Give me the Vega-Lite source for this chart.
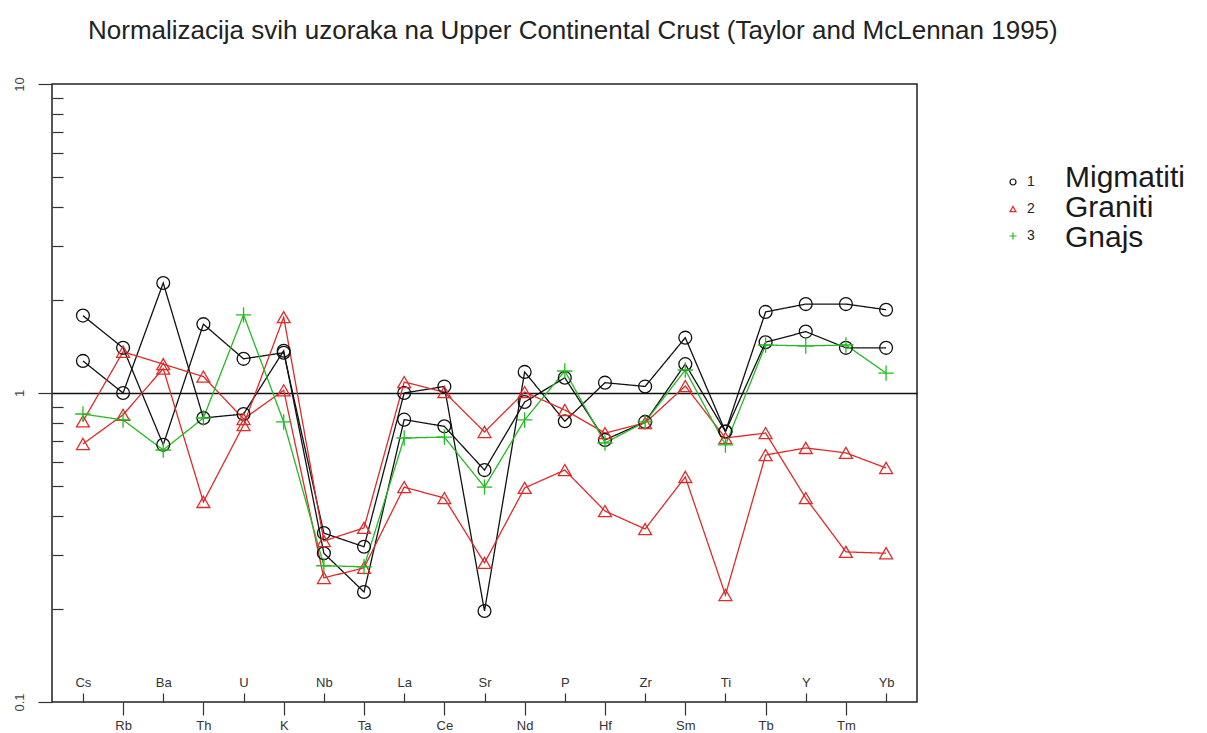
{
  "$schema": "https://vega.github.io/schema/vega-lite/v6.json",
  "width": 865,
  "height": 618,
  "autosize": "none",
  "padding": {"left": 52, "top": 84, "right": 290, "bottom": 31},
  "background": "white",
  "config": {"view": {"stroke": "#222", "strokeWidth": 1.5}, "font": "Liberation Sans"},
  "title": {
    "text": "Normalizacija svih uzoraka na Upper Continental Crust (Taylor  and  McLennan 1995)",
    "anchor": "start", "fontSize": 26, "font": "Liberation Sans",
    "fontWeight": "normal", "color": "#222", "offset": 33, "dx": 75
  },
  "datasets": {
    "ser": [
      {"s": "m1", "grp": "1", "rock": "Migmatiti"},
      {"s": "m2", "grp": "1", "rock": "Migmatiti"},
      {"s": "r1", "grp": "2", "rock": "Graniti"},
      {"s": "r2", "grp": "2", "rock": "Graniti"},
      {"s": "n1", "grp": "3", "rock": "Gnajs"}
    ]
  },
  "data": {"values": [
    {"el":"Cs","s":"m1","v":1.78},{"el":"Rb","s":"m1","v":1.40},{"el":"Ba","s":"m1","v":0.68},{"el":"Th","s":"m1","v":1.67},{"el":"U","s":"m1","v":1.29},{"el":"K","s":"m1","v":1.35},{"el":"Nb","s":"m1","v":0.352},{"el":"Ta","s":"m1","v":0.318},{"el":"La","s":"m1","v":1.0},{"el":"Ce","s":"m1","v":1.05},{"el":"Sr","s":"m1","v":0.197},{"el":"Nd","s":"m1","v":1.17},{"el":"P","s":"m1","v":0.81},{"el":"Hf","s":"m1","v":1.08},{"el":"Zr","s":"m1","v":1.05},{"el":"Sm","s":"m1","v":1.51},{"el":"Ti","s":"m1","v":0.75},{"el":"Tb","s":"m1","v":1.83},{"el":"Y","s":"m1","v":1.94},{"el":"Tm","s":"m1","v":1.94},{"el":"Yb","s":"m1","v":1.86},
    {"el":"Cs","s":"m2","v":1.27},{"el":"Rb","s":"m2","v":1.0},{"el":"Ba","s":"m2","v":2.27},{"el":"Th","s":"m2","v":0.83},{"el":"U","s":"m2","v":0.855},{"el":"K","s":"m2","v":1.37},{"el":"Nb","s":"m2","v":0.303},{"el":"Ta","s":"m2","v":0.227},{"el":"La","s":"m2","v":0.82},{"el":"Ce","s":"m2","v":0.78},{"el":"Sr","s":"m2","v":0.563},{"el":"Nd","s":"m2","v":0.935},{"el":"P","s":"m2","v":1.12},{"el":"Hf","s":"m2","v":0.705},{"el":"Zr","s":"m2","v":0.806},{"el":"Sm","s":"m2","v":1.24},{"el":"Ti","s":"m2","v":0.75},{"el":"Tb","s":"m2","v":1.46},{"el":"Y","s":"m2","v":1.58},{"el":"Tm","s":"m2","v":1.40},{"el":"Yb","s":"m2","v":1.40},
    {"el":"Cs","s":"r1","v":0.81},{"el":"Rb","s":"r1","v":1.36},{"el":"Ba","s":"r1","v":1.24},{"el":"Th","s":"r1","v":1.13},{"el":"U","s":"r1","v":0.824},{"el":"K","s":"r1","v":1.02},{"el":"Nb","s":"r1","v":0.252},{"el":"Ta","s":"r1","v":0.272},{"el":"La","s":"r1","v":0.496},{"el":"Ce","s":"r1","v":0.457},{"el":"Sr","s":"r1","v":0.282},{"el":"Nd","s":"r1","v":0.493},{"el":"P","s":"r1","v":0.563},{"el":"Hf","s":"r1","v":0.415},{"el":"Zr","s":"r1","v":0.363},{"el":"Sm","s":"r1","v":0.535},{"el":"Ti","s":"r1","v":0.222},{"el":"Tb","s":"r1","v":0.63},{"el":"Y","s":"r1","v":0.664},{"el":"Tm","s":"r1","v":0.64},{"el":"Yb","s":"r1","v":0.572},
    {"el":"Cs","s":"r2","v":0.684},{"el":"Rb","s":"r2","v":0.85},{"el":"Ba","s":"r2","v":1.20},{"el":"Th","s":"r2","v":0.444},{"el":"U","s":"r2","v":0.788},{"el":"K","s":"r2","v":1.76},{"el":"Nb","s":"r2","v":0.332},{"el":"Ta","s":"r2","v":0.366},{"el":"La","s":"r2","v":1.085},{"el":"Ce","s":"r2","v":1.007},{"el":"Sr","s":"r2","v":0.748},{"el":"Nd","s":"r2","v":1.007},{"el":"P","s":"r2","v":0.881},{"el":"Hf","s":"r2","v":0.742},{"el":"Zr","s":"r2","v":0.80},{"el":"Sm","s":"r2","v":1.053},{"el":"Ti","s":"r2","v":0.715},{"el":"Tb","s":"r2","v":0.742},{"el":"Y","s":"r2","v":0.457},{"el":"Tm","s":"r2","v":0.306},{"el":"Yb","s":"r2","v":0.303},
    {"el":"Cs","s":"n1","v":0.855},{"el":"Rb","s":"n1","v":0.818},{"el":"Ba","s":"n1","v":0.654},{"el":"Th","s":"n1","v":0.83},{"el":"U","s":"n1","v":1.79},{"el":"K","s":"n1","v":0.806},{"el":"Nb","s":"n1","v":0.276},{"el":"Ta","s":"n1","v":0.274},{"el":"La","s":"n1","v":0.715},{"el":"Ce","s":"n1","v":0.72},{"el":"Sr","s":"n1","v":0.496},{"el":"Nd","s":"n1","v":0.818},{"el":"P","s":"n1","v":1.178},{"el":"Hf","s":"n1","v":0.689},{"el":"Zr","s":"n1","v":0.806},{"el":"Sm","s":"n1","v":1.187},{"el":"Ti","s":"n1","v":0.679},{"el":"Tb","s":"n1","v":1.43},{"el":"Y","s":"n1","v":1.42},{"el":"Tm","s":"n1","v":1.43},{"el":"Yb","s":"n1","v":1.16}
  ]},
  "transform": [{"lookup": "s", "from": {"data": {"name": "ser"}, "key": "s", "fields": ["grp", "rock"]}}],
  "encoding": {
    "x": {
      "field": "el", "type": "nominal",
      "sort": ["Cs","Rb","Ba","Th","U","K","Nb","Ta","La","Ce","Sr","Nd","P","Hf","Zr","Sm","Ti","Tb","Y","Tm","Yb"],
      "scale": {"type": "point", "padding": 0.77},
      "axis": {
        "title": null, "labelAngle": 0, "domain": false, "grid": false,
        "labelFontSize": 13, "labelColor": "#333", "labelFont": "Liberation Sans",
        "tickColor": "#333", "tickWidth": 1.2, "labelOverlap": false,
        "tickSize": {"condition": {"test": "indexof(['Cs','Ba','U','Nb','La','Sr','P','Zr','Ti','Y','Yb'], datum.value) >= 0", "value": -9}, "value": 13},
        "labelPadding": {"condition": {"test": "indexof(['Cs','Ba','U','Nb','La','Sr','P','Zr','Ti','Y','Yb'], datum.value) >= 0", "value": -17}, "value": 4}
      }
    },
    "y": {
      "field": "v", "type": "quantitative",
      "scale": {"type": "log", "domain": [0.1, 10], "nice": false},
      "axis": {
        "title": null, "domain": false,
        "values": [0.1,0.2,0.3,0.4,0.5,0.6,0.7,0.8,0.9,1,2,3,4,5,6,7,8,9,10],
        "labelExpr": "datum.value == 0.1 ? '0.1' : datum.value == 1 ? '1' : datum.value == 10 ? '10' : ''",
        "labelFontSize": 13, "labelColor": "#444", "labelAngle": 270, "labelAlign": "center",
        "labelBaseline": "bottom", "labelFlush": false, "labelOverlap": false,
        "tickColor": "#333", "tickWidth": 1.2, "labelPadding": 12,
        "tickSize": {"condition": {"test": "datum.value == 0.1 || datum.value == 1 || datum.value == 10", "value": 14}, "value": -11},
        "grid": true, "gridColor": "#111", "gridWidth": 1.4,
        "gridOpacity": {"condition": {"test": "datum.value == 1", "value": 1}, "value": 0}
      }
    }
  },
  "layer": [
    {
      "mark": {"type": "line", "strokeWidth": 1.3},
      "encoding": {
        "color": {"field": "rock", "type": "nominal",
          "scale": {"domain": ["Migmatiti","Graniti","Gnajs"], "range": ["#111111","#e02a2a","#22bb22"]},
          "legend": {"orient": "none", "legendX": 954, "legendY": 91, "title": null, "labelFontSize": 14, "labelColor": "#222",
            "labelExpr": "datum.label == 'Migmatiti' ? '1' : datum.label == 'Graniti' ? '2' : '3'",
            "symbolSize": 36, "rowPadding": 13, "labelOffset": 7, "symbolStrokeWidth": 1.2}},
        "strokeDash": {"field": "grp", "type": "nominal",
          "scale": {"domain": ["1","2","3"], "range": [[1,0],[1,0],[1,0]]},
          "legend": {"orient": "none", "legendX": 983, "legendY": 79, "title": null, "labelFontSize": 30, "labelColor": "#1a1a1a",
            "labelExpr": "datum.label == '1' ? 'Migmatiti' : datum.label == '2' ? 'Graniti' : 'Gnajs'",
            "symbolOpacity": 0, "symbolStrokeWidth": 0, "symbolSize": 36, "rowPadding": -4, "labelOffset": 0}},
        "detail": {"field": "s"}
      }
    },
    {
      "mark": {"type": "point", "filled": false, "size": 165, "strokeWidth": 1.3, "opacity": 1},
      "encoding": {
        "color": {"field": "rock", "type": "nominal",
          "scale": {"domain": ["Migmatiti","Graniti","Gnajs"], "range": ["#111111","#e02a2a","#22bb22"]},
          "legend": {"orient": "none", "legendX": 954, "legendY": 91, "title": null, "labelFontSize": 14, "labelColor": "#222",
            "labelExpr": "datum.label == 'Migmatiti' ? '1' : datum.label == 'Graniti' ? '2' : '3'",
            "symbolSize": 36, "rowPadding": 13, "labelOffset": 7, "symbolStrokeWidth": 1.2}},
        "shape": {"field": "rock", "type": "nominal",
          "scale": {"domain": ["Migmatiti","Graniti","Gnajs"], "range": ["circle","triangle-up","M-1.2,0L1.2,0M0,-1.2L0,1.2"]},
          "legend": {"orient": "none", "legendX": 954, "legendY": 91, "title": null, "labelFontSize": 14, "labelColor": "#222",
            "labelExpr": "datum.label == 'Migmatiti' ? '1' : datum.label == 'Graniti' ? '2' : '3'",
            "symbolSize": 36, "rowPadding": 13, "labelOffset": 7, "symbolStrokeWidth": 1.2}}
      }
    }
  ]
}
